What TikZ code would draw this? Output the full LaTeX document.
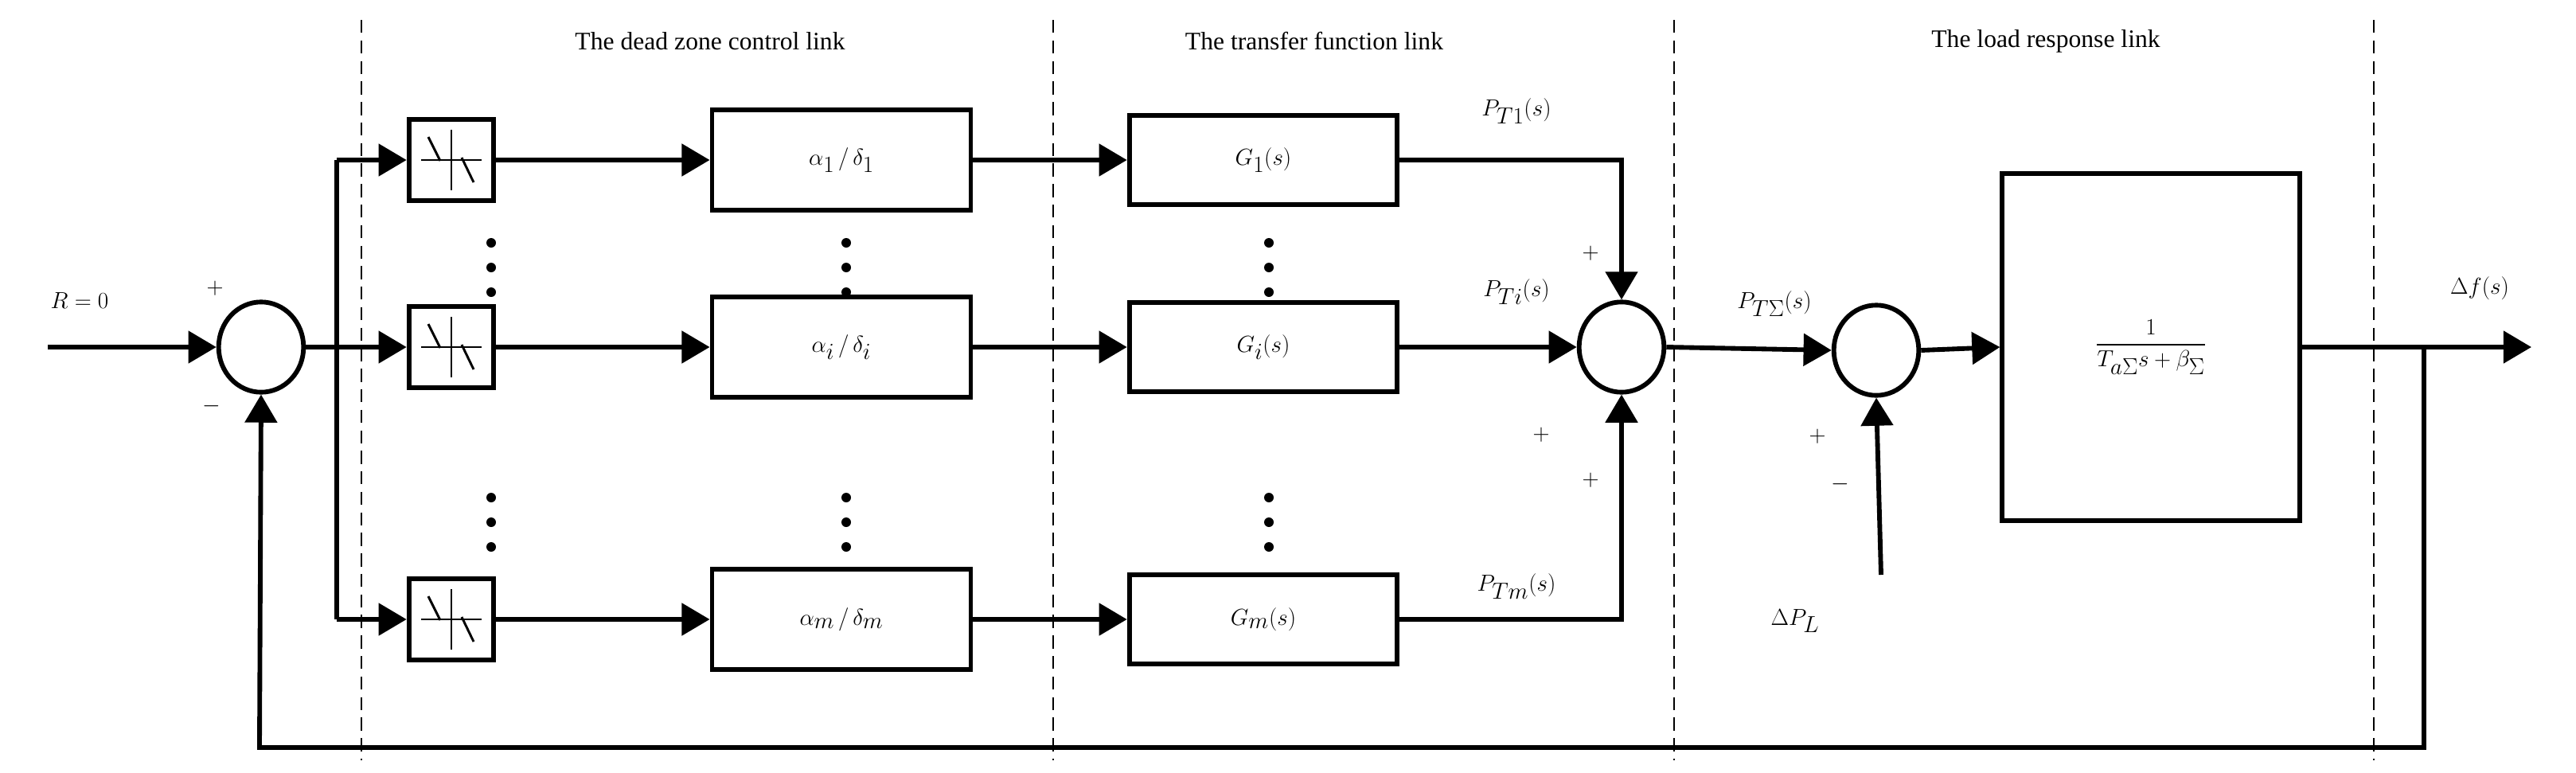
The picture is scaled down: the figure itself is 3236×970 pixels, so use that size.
\documentclass[tikz,border=0pt]{standalone}
\usepackage{amsmath}
\usepackage{fontspec}
\setmainfont{Liberation Serif}
\usetikzlibrary{arrows.meta,shapes.geometric,calc}
\begin{document}
\begin{tikzpicture}[x=0.03cm,y=-0.03cm,
  ln/.style={line width=5pt},
  ar/.style={ln,-{Triangle[length=30pt,width=34pt]}},
  blk/.style={draw,line width=5pt,inner sep=0pt},
  dz/.style={blk,minimum width=3.2cm,minimum height=3.05cm},
  ab/.style={blk,minimum width=9.75cm,minimum height=3.8cm,font=\fontsize{52}{60}\selectfont},
  gb/.style={blk,minimum width=10.1cm,minimum height=3.35cm,font=\fontsize{52}{60}\selectfont},
  sm/.style={draw,ellipse,line width=5pt,minimum width=3.2cm,minimum height=3.4cm,inner sep=0pt},
  lb/.style={font=\fontsize{50}{60}\selectfont},
  sg/.style={font=\fontsize{46}{50}\selectfont},
  sec/.style={font=\fontsize{27}{32}\selectfont},
  dsh/.style={line width=1.6pt,dash pattern=on 14pt off 8pt}]
\useasboundingbox (0,0) rectangle (3236,970);
% dashed separators
\foreach \x in {454,1323,2103,2982}{\draw[dsh] (\x,25) -- (\x,955);}
\node[sec] (t1) at (892,52) {The dead zone control link};
\node[sec] (t2) at (1651,52) {The transfer function link};
\node[sec] (t3) at (2570,52) {The load response link};
% summing junctions
\node[sm] (s1) at (328,436) {};
\node[sm] (s2) at (2037,436) {};
\node[sm] (s3) at (2357,440) {};
% rows
\foreach \n/\y/\a/\d/\g in {1/201/1/1/1, i/436/i/i/i, m/778/m/m/m}{
  \node[dz] (d\n) at (567,\y) {};
  \node[ab] (a\n) at (1057,\y) {$\alpha_{\a}\,/\,\delta_{\d}$};
  \node[gb] (g\n) at (1587,\y) {$G_{\g}(s)$};
  \draw[line width=2.5pt] ($(d\n.center)+(-38,0)$) -- ($(d\n.center)+(38,0)$);
  \draw[line width=2.5pt] ($(d\n.center)+(0,-38)$) -- ($(d\n.center)+(0,38)$);
  \draw[line width=2.5pt] ($(d\n.center)+(-29,-29)$) -- ($(d\n.center)+(-14,1)$);
  \draw[line width=2.5pt] ($(d\n.center)+(13,-3)$) -- ($(d\n.center)+(28,28)$);
  \draw[ar] (d\n.east) -- (a\n.west);
  \draw[ar] (a\n.east) -- (g\n.west);
}
% dots
\foreach \x in {617,1063,1594}{
  \foreach \y in {305,336,367,625,656,687}{\fill (\x,\y) circle (6);}
}
% transfer box
\node[blk,minimum width=11.2cm,minimum height=13.1cm] (tf) at (2702,436)
  {\fontsize{52}{60}\selectfont$\dfrac{1}{T_{a\Sigma}s+\beta_{\Sigma}}$};
% input
\coordinate (in) at (60,436);
\draw[ar] (in) -- (s1.west);
\node[lb] (R) at (100,378) {$R=0$};
\node[sg] (p1) at (270,362) {$+$};
\node[sg] (m1) at (266,510) {$-$};
% branch
\coordinate (br1) at (423,201);
\coordinate (br2) at (423,436);
\coordinate (br3) at (423,778);
\draw[ln] (s1.east) -- (br2);
\draw[ln] (br1) -- (br3);
\draw[ar] (br1) -- (d1.west);
\draw[ar] (br2) -- (di.west);
\draw[ar] (br3) -- (dm.west);
% to sum 2
\coordinate (c1) at (2037,201);
\coordinate (c3) at (2037,778);
\draw[ar] (g1.east) -- (c1) -- (s2.north);
\draw[ar] (gi.east) -- (s2.west);
\draw[ar] (gm.east) -- (c3) -- (s2.south);
\node[lb] (l1) at (1905,140) {$P_{T1}(s)$};
\node[lb] (l2) at (1905,367) {$P_{Ti}(s)$};
\node[lb,font=\fontsize{44}{50}\selectfont] (l3) at (1905,737) {$P_{Tm}(s)$};
\node[sg] (p2) at (1998,318) {$+$};
\node[sg] (p3) at (1936,546) {$+$};
\node[sg] (p4) at (1998,603) {$+$};
% sum 3
\draw[ar] (s2.east) -- (s3.west);
\node[lb] (lS) at (2229,382) {$P_{T\Sigma}(s)$};
\coordinate (pl) at (2363,722);
\draw[ar] (pl) -- (s3.south);
\node[lb,font=\fontsize{44}{50}\selectfont] (lPL) at (2255,780) {$\Delta P_L$};
\node[sg] (p5) at (2283,548) {$+$};
\node[sg] (m5) at (2312,608) {$-$};
\draw[ar] (s3.east) -- (tf.west);
% output
\coordinate (out) at (3180,436);
\draw[ar] (tf.east) -- (out);
\node[lb] (lf) at (3115,362) {$\Delta f(s)$};
\coordinate (f1) at (3045,436);
\coordinate (f2) at (3045,939);
\coordinate (f3) at (326,939);
\draw[ar] (f1) -- (f2) -- (f3) -- (s1.south);
\end{tikzpicture}
\end{document}
